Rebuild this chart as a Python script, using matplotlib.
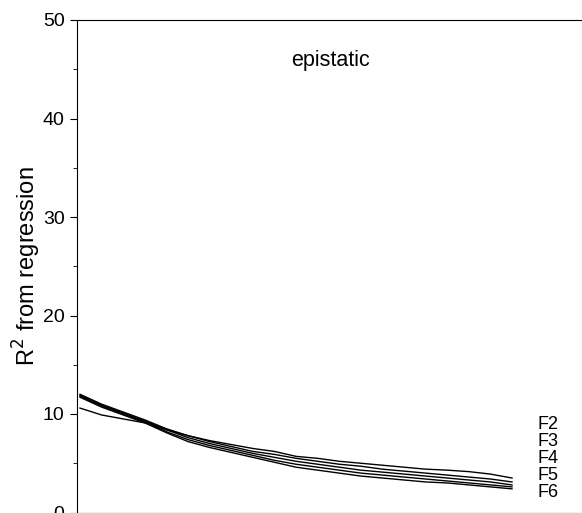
import matplotlib.pyplot as plt
import numpy as np
from matplotlib.ticker import MultipleLocator

plt.rcParams['font.family'] = ['Liberation Sans', 'DejaVu Sans']

# position along the genome (arbitrary units)
x = [0, 5, 10, 15, 20, 25, 30, 35, 40, 45, 50, 55, 60, 65, 70, 75, 80, 85, 90, 95, 100]

# R^2 from regression per generation
f2 = [10.6, 9.9, 9.5, 9.1, 8.4, 7.8, 7.3, 6.9, 6.5, 6.2, 5.7, 5.5, 5.2, 5.0, 4.8, 4.6, 4.4, 4.3, 4.15, 3.9, 3.5]
f3 = [12.0, 11.0, 10.2, 9.4, 8.5, 7.8, 7.2, 6.7, 6.2, 5.9, 5.5, 5.2, 4.9, 4.7, 4.4, 4.2, 4.0, 3.8, 3.6, 3.4, 3.1]
f4 = [11.9, 10.9, 10.1, 9.3, 8.4, 7.6, 7.0, 6.5, 6.0, 5.6, 5.2, 4.9, 4.6, 4.3, 4.1, 3.9, 3.7, 3.5, 3.3, 3.1, 2.8]
f5 = [11.8, 10.8, 10.0, 9.2, 8.2, 7.4, 6.8, 6.3, 5.8, 5.3, 4.9, 4.6, 4.3, 4.0, 3.8, 3.6, 3.4, 3.2, 3.0, 2.8, 2.6]
f6 = [11.7, 10.7, 9.9, 9.1, 8.1, 7.2, 6.6, 6.1, 5.6, 5.1, 4.6, 4.3, 4.0, 3.7, 3.5, 3.3, 3.1, 3.0, 2.8, 2.6, 2.4]
labels = ['F2', 'F3', 'F4', 'F5', 'F6']

fig = plt.figure(figsize=(5.82, 5.13), dpi=100)
ax = fig.add_axes([77 / 582, 0.5 / 513, 505 / 582, 492.5 / 513])

for y in [f2, f3, f4, f5, f6]:
    ax.plot(x, y, color='black', linewidth=1.0)

for i, lab in enumerate(labels):
    ax.text(105.8, 8.98 - i * 1.73, lab, fontsize=13, ha='left', va='center')

ax.text(58.0, 45.9, 'epistatic', fontsize=15.5, ha='center', va='center')

ax.set_xlim(-0.7, 116.2)
ax.set_ylim(0, 50)
ax.yaxis.set_major_locator(MultipleLocator(10))
ax.yaxis.set_minor_locator(MultipleLocator(5))
ax.tick_params(axis='y', which='major', length=5, labelsize=14, pad=4)
ax.tick_params(axis='y', which='minor', length=3)
ax.set_xticks([])
ax.spines['right'].set_visible(False)
ax.set_ylabel('R$^2$ from regression', fontsize=17, labelpad=0)

fig.savefig('out.png', dpi=100)
